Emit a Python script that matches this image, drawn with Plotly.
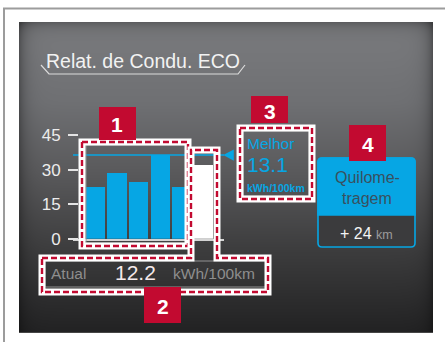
import base64
import struct
import zlib

import numpy as np
import plotly.graph_objects as go

# ---- data -------------------------------------------------------------
trip_slots = [0, 1, 2, 3, 4]            # earlier trip segments
trip_values = [22.4, 28.5, 24.6, 36.3, 22.4]
current_slot = [5]
current_values = [32.0]                 # current segment (white bar)
best_level = 36.3                       # "Melhor" reference line
y_ticks = [0, 15, 30, 45]

title_text = "Relat. de Condu. ECO"
current_label = "Atual"
current_reading = "12.2"
best_label = "Melhor"
best_reading = "13.1"
unit_text = "kWh/100km"
range_gain = "+ 24"
range_unit = "km"
range_title = ["Quilome-", "tragem"]
callouts = ["1", "2", "3", "4"]

# ---- canvas helpers ---------------------------------------------------
W, H = 445, 342
FONT = "Liberation Sans, Arial, sans-serif"
BLUE = "#06a6e4"
RED = "#c20a30"


def px(x):
    return x / W


def py(y):
    return 1 - y / H


def poly(points, close=True):
    s = "M " + " L ".join(f"{px(x):.5f},{py(y):.5f}" for x, y in points)
    return s + (" Z" if close else "")


def png_uri(arr):
    h, w, _ = arr.shape
    raw = b"".join(b"\x00" + arr[r].tobytes() for r in range(h))

    def chunk(tag, data):
        body = struct.pack(">I", len(data)) + tag + data
        return body + struct.pack(">I", zlib.crc32(tag + data) & 0xFFFFFFFF)

    png = (b"\x89PNG\r\n\x1a\n"
           + chunk(b"IHDR", struct.pack(">IIBBBBB", w, h, 8, 2, 0, 0, 0))
           + chunk(b"IDAT", zlib.compress(raw, 9))
           + chunk(b"IEND", b""))
    return "data:image/png;base64," + base64.b64encode(png).decode()


# dashboard panel: vertical gradient with darker rim
P_X0, P_Y0, P_X1, P_Y1 = 19, 22, 433, 333
pw, ph = P_X1 - P_X0, P_Y1 - P_Y0
stops_y = np.array([0, 80, 150, 230, ph])
stops_c = np.array([[123, 124, 127], [111, 112, 115], [90, 90, 92],
                    [60, 60, 61], [34, 34, 35]], dtype=float)
ys = np.arange(ph)
col = np.stack([np.interp(ys, stops_y, stops_c[:, k]) for k in range(3)], axis=1)
img = np.repeat(col[:, None, :], pw, axis=1)
xs = np.arange(pw)
d_side = np.minimum(xs, pw - 1 - xs)[None, :].astype(float)
d_top = ys[:, None].astype(float)
rim = 1 - 0.32 * np.exp(-d_side / 7.0) - 0.25 * np.exp(-d_top / 7.0)
img = img * np.clip(rim, 0.5, 1)[:, :, None]
img[-1, :, :] = 70
img = np.clip(img, 0, 255).astype(np.uint8)

# ---- figure -----------------------------------------------------------
fig = go.Figure()
fig.add_trace(go.Bar(x=trip_slots, y=trip_values, width=0.88,
                     marker=dict(color=BLUE, line=dict(width=0)),
                     hoverinfo="skip"))
fig.add_trace(go.Bar(x=current_slot, y=current_values, width=0.88,
                     marker=dict(color="#ffffff", line=dict(width=0)),
                     hoverinfo="skip"))

shapes = []
# outer page frame
shapes.append(dict(type="path", xref="paper", yref="paper",
                   path=poly([(4, 343), (4, 8.5), (446, 8.5)], close=False),
                   line=dict(color="#9c9c9c", width=2)))
# title bracket
shapes.append(dict(type="path", xref="paper", yref="paper",
                   path=poly([(41, 65), (49, 74), (238, 74), (245, 65)], close=False),
                   line=dict(color="#dcdcdc", width=1.2)))
# best level line and pointer
shapes.append(dict(type="line", xref="x domain", yref="y", x0=0, x1=1,
                   y0=best_level, y1=best_level,
                   line=dict(color=BLUE, width=1.5), layer="above"))
shapes.append(dict(type="path", xref="x domain", yref="y",
                   path=f"M 0.995,{best_level} L 1.065,{best_level + 2.45} "
                        f"L 1.065,{best_level - 2.45} Z",
                   fillcolor=BLUE, line=dict(width=0)))


def dashed(points, close=True):
    path = poly(points, close)
    shapes.append(dict(type="path", xref="paper", yref="paper", path=path,
                       line=dict(color="#ffffff", width=7), layer="above"))
    shapes.append(dict(type="path", xref="paper", yref="paper", path=path,
                       line=dict(color=RED, width=2.4, dash="6px,3px"),
                       layer="above"))


def thin_rect(x0, y0, x1, y1, color="#929292"):
    shapes.append(dict(type="rect", xref="paper", yref="paper",
                       x0=px(x0), x1=px(x1), y0=py(y1), y1=py(y0),
                       line=dict(color=color, width=1), layer="above"))


# inner frames of the display widgets
thin_rect(86, 145, 186, 243)
thin_rect(45, 261, 266, 287)
thin_rect(243, 131, 309, 196)

# callout frames
dashed([(82, 142), (188, 142), (188, 246), (82, 246)])
dashed([(42, 258), (191, 258), (191, 150), (217, 150), (217, 258),
        (268, 258), (268, 292), (42, 292)])
dashed([(240, 128), (312, 128), (312, 199), (240, 199)])


# range widget: blue header, dark body, rounded corners
def rounded(x0, y0, x1, y1, r, top=True, bottom=True):
    rt = r if top else 0
    rb = r if bottom else 0
    p = [f"M {px(x0 + rt):.5f},{py(y0):.5f}",
         f"L {px(x1 - rt):.5f},{py(y0):.5f}"]
    if rt:
        p.append(f"Q {px(x1):.5f},{py(y0):.5f} {px(x1):.5f},{py(y0 + rt):.5f}")
    p.append(f"L {px(x1):.5f},{py(y1 - rb):.5f}")
    if rb:
        p.append(f"Q {px(x1):.5f},{py(y1):.5f} {px(x1 - rb):.5f},{py(y1):.5f}")
    p.append(f"L {px(x0 + rb):.5f},{py(y1):.5f}")
    if rb:
        p.append(f"Q {px(x0):.5f},{py(y1):.5f} {px(x0):.5f},{py(y1 - rb):.5f}")
    p.append(f"L {px(x0):.5f},{py(y0 + rt):.5f}")
    if rt:
        p.append(f"Q {px(x0):.5f},{py(y0):.5f} {px(x0 + rt):.5f},{py(y0):.5f}")
    return " ".join(p) + " Z"


shapes.append(dict(type="path", xref="paper", yref="paper",
                   path=rounded(318, 158, 415, 247, 4),
                   fillcolor="#3b3b3d", line=dict(color=BLUE, width=1.6)))
shapes.append(dict(type="path", xref="paper", yref="paper",
                   path=rounded(318, 158, 415, 215, 4, bottom=False),
                   fillcolor=BLUE, line=dict(color=BLUE, width=1.6)))

# numbered callout tags
tag_boxes = [(99, 107, 136, 140), (144, 287, 181, 323),
             (251, 96, 288, 123), (349, 125, 386, 161)]
for (x0, y0, x1, y1) in tag_boxes:
    shapes.append(dict(type="rect", xref="paper", yref="paper",
                       x0=px(x0), x1=px(x1), y0=py(y1), y1=py(y0),
                       fillcolor=RED, line=dict(width=0), layer="above"))

annotations = []


def label(text, x, y, size, color, anchor="left", bold=False):
    annotations.append(dict(
        text=f"<b>{text}</b>" if bold else text, x=px(x), y=py(y),
        xref="paper", yref="paper", xanchor=anchor, yanchor="middle",
        showarrow=False, font=dict(family=FONT, size=size, color=color)))


label(title_text, 44, 61, 19.5, "#f2f2f2")
label(current_label, 49, 273, 15.5, "#8e8e8e")
label(current_reading, 113, 272, 21, "#f4e9ea")
label(unit_text, 171, 273, 15.5, "#8e8e8e")
label(best_label, 245, 143, 15.5, BLUE)
label(best_reading, 245, 164, 21, BLUE)
label(unit_text, 245, 188, 10.5, BLUE, bold=True)
label(range_title[0], 367, 177, 16, "#39505e", anchor="center")
label(range_title[1], 367, 198, 16, "#39505e", anchor="center")
label(f"{range_gain} <span style='font-size:12.5px;color:#9c9c9c'>{range_unit}</span>",
      366, 233, 16, "#f4f4f4", anchor="center")
for t, (x0, y0, x1, y1) in zip(callouts, tag_boxes):
    cy = (y0 + y1) / 2 if t != "3" else 110
    label(t, (x0 + x1) / 2, cy + 1, 21, "#ffffff", anchor="center", bold=True)

fig.update_layout(
    width=W, height=H, margin=dict(l=0, r=0, t=0, b=0, pad=0, autoexpand=False),
    paper_bgcolor="#ffffff", plot_bgcolor="rgba(0,0,0,0)",
    showlegend=False, bargap=0,
    shapes=shapes, annotations=annotations,
    images=[dict(source=png_uri(img), xref="paper", yref="paper",
                 x=px(P_X0), y=py(P_Y0), sizex=pw / W, sizey=ph / H,
                 xanchor="left", yanchor="top", sizing="stretch",
                 layer="below")],
    xaxis=dict(domain=[px(73), px(224)], range=[-1.037, 5.954],
               showgrid=False, zeroline=False, showticklabels=False,
               ticks="", showline=True, linecolor="#d4d4d4", linewidth=2,
               fixedrange=True, automargin=False),
    yaxis=dict(domain=[py(238.8), py(135)], range=[0, 45],
               anchor="free", position=px(78), tickvals=y_ticks,
               ticks="outside", ticklen=10, tickwidth=1.5,
               tickcolor="#e4e4e4", ticklabelstandoff=4,
               tickfont=dict(family=FONT, size=17, color="#ececec"),
               showgrid=False, zeroline=False, showline=False,
               fixedrange=True, automargin=False),
)

fig.write_html("out.html")
